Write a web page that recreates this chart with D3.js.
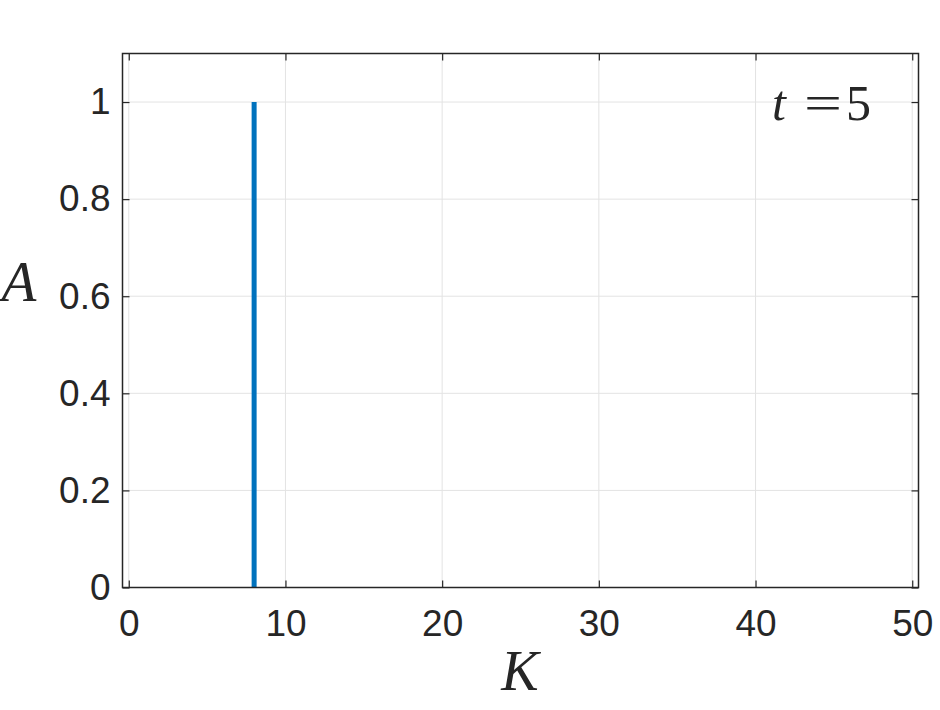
<!DOCTYPE html>
<html>
<head>
<meta charset="utf-8">
<script src="https://cdn.jsdelivr.net/npm/d3@7"></script>
<style>
  body { margin: 0; background: #fff; }
  svg { display: block; }
  .tick text { font-family: "Liberation Sans", Arial, sans-serif; font-size: 37px; fill: #262626; }
  .math { font-family: "Liberation Serif", "DejaVu Serif", serif; font-style: italic; fill: #262626; }
</style>
</head>
<body>
<script>
// data
var kValues = [8];
var aValues = [1];
var xTicks = [0, 10, 20, 30, 40, 50];
var yTicks = [0, 0.2, 0.4, 0.6, 0.8, 1];
var timeLabel = "5";

var W = 940, H = 710;
var box = {left: 122.5, right: 918.5, top: 53.5, bottom: 587.5};

var svg = d3.select("body").append("svg")
    .attr("width", W)
    .attr("height", H);

var x = d3.scaleLinear().domain([-0.4, 50.4]).range([box.left, box.right]);
var y = d3.scaleLinear().domain([0, 1.1]).range([box.bottom, box.top]);

// grid
var grid = svg.append("g").attr("stroke", "#e3e3e3").attr("stroke-width", 1);
xTicks.forEach(function(t) {
  grid.append("line")
    .attr("x1", x(t)).attr("x2", x(t))
    .attr("y1", box.top).attr("y2", box.bottom);
});
yTicks.forEach(function(t) {
  grid.append("line")
    .attr("x1", box.left).attr("x2", box.right)
    .attr("y1", y(t)).attr("y2", y(t));
});

// stems
svg.append("g").selectAll("line")
  .data(kValues)
  .enter()
  .append("line")
  .attr("x1", function(d) { return x(d); })
  .attr("x2", function(d) { return x(d); })
  .attr("y1", y(0))
  .attr("y2", function(d, i) { return y(aValues[i]); })
  .attr("stroke", "#0072BD")
  .attr("stroke-width", 5);

// axes, MATLAB style: ticks pointing inward on all four sides
var tl = 7;
var xAxis = d3.axisBottom(x).tickValues(xTicks).tickSize(-tl).tickPadding(22).tickSizeOuter(0);
var xTop = d3.axisTop(x).tickValues(xTicks).tickSize(-tl).tickFormat("").tickSizeOuter(0);
var yAxis = d3.axisLeft(y).tickValues(yTicks).tickSize(-tl).tickPadding(12).tickSizeOuter(0)
    .tickFormat(function(d) { return d3.format("")(d); });
var yRight = d3.axisRight(y).tickValues(yTicks).tickSize(-tl).tickFormat("").tickSizeOuter(0);

svg.append("g").attr("transform", "translate(0," + box.bottom + ")").call(xAxis);
svg.append("g").attr("transform", "translate(0," + box.top + ")").call(xTop);
svg.append("g").attr("transform", "translate(" + box.left + ",0)").call(yAxis);
svg.append("g").attr("transform", "translate(" + box.right + ",0)").call(yRight);

svg.selectAll(".domain").remove();
svg.selectAll(".tick line").attr("stroke", "#262626").attr("stroke-width", 1.2);

svg.append("rect")
  .attr("x", box.left).attr("y", box.top)
  .attr("width", box.right - box.left)
  .attr("height", box.bottom - box.top)
  .attr("fill", "none")
  .attr("stroke", "#262626")
  .attr("stroke-width", 1.5);

// labels
svg.append("text").attr("class", "math")
  .attr("x", 520).attr("y", 690)
  .attr("text-anchor", "middle")
  .attr("font-size", 56)
  .text("K");

svg.append("text").attr("class", "math")
  .attr("x", 19).attr("y", 301)
  .attr("text-anchor", "middle")
  .attr("font-size", 57)
  .text("A");

var tt = svg.append("text").attr("class", "math")
  .attr("y", 120)
  .attr("font-size", 50);
tt.append("tspan").attr("x", 772).text("t");
tt.append("tspan").attr("x", 804).attr("font-style", "normal").attr("textLength", 38).attr("lengthAdjust", "spacingAndGlyphs").text("=");
tt.append("tspan").attr("x", 846).attr("font-style", "normal").text(timeLabel);
</script>
</body>
</html>
